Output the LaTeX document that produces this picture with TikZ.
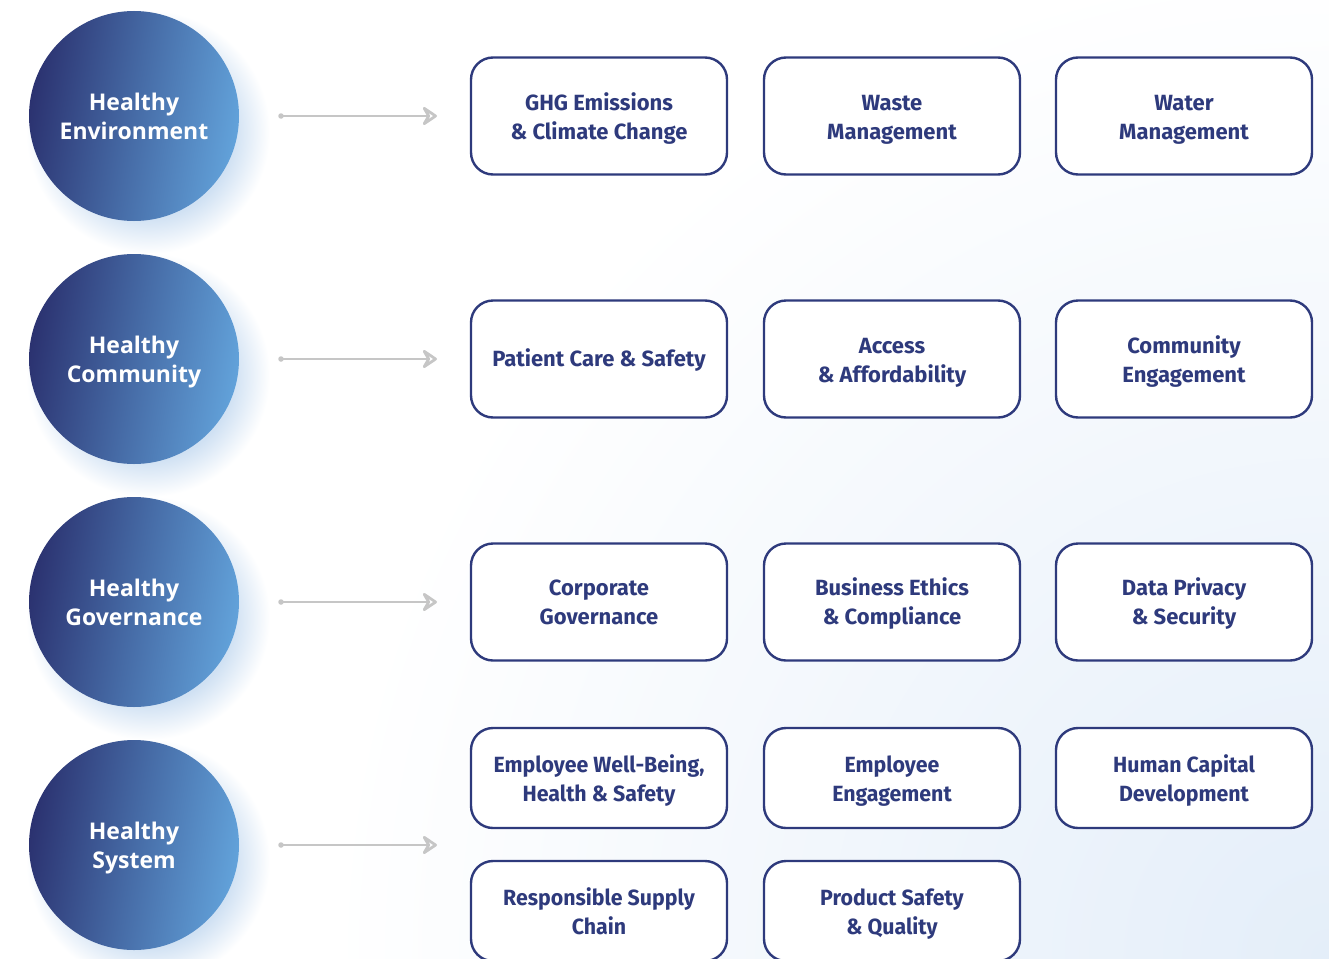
\documentclass[tikz,border=0pt]{standalone}
\usepackage{fontspec}
\setmainfont{Fira Sans}
\newfontfamily\circfont{Open Sans}
\usetikzlibrary{arrows.meta}
\definecolor{navy}{HTML}{2E3A7C}
\definecolor{ballA}{HTML}{2B3270}
\definecolor{ballB}{HTML}{466BA6}
\definecolor{ballC}{HTML}{62A2DA}
\definecolor{halo}{HTML}{D0E1F3}
\definecolor{bgblue}{HTML}{E4EEF9}
\definecolor{arrowgray}{HTML}{C6C6C6}
\pgfdeclareradialshading{haloshade}{\pgfpoint{0bp}{0bp}}{color(0bp)=(halo); color(17.5bp)=(halo); color(25bp)=(white); color(50bp)=(white)}
\tikzset{
  ball/.style={circle, minimum size=210pt, inner sep=0pt, left color=ballA, right color=ballC, middle color=ballB, shading angle=80},
  clab/.style={inner sep=0pt, anchor=base, text=white, font=\circfont\bfseries\fontsize{23}{29}\selectfont, align=center},
  topic/.style={draw=navy, line width=2.4pt, rounded corners=22pt, fill=white, minimum width=256pt, minimum height=117pt, inner sep=0pt},
  topicb/.style={topic, minimum height=100pt},
  tlab/.style={inner sep=0pt, anchor=base, text=navy, font=\bfseries\fontsize{22}{29}\selectfont, align=center},
  tlabn/.style={tlab, font=\addfontfeatures{FakeStretch=0.97}\bfseries\fontsize{22}{29}\selectfont},
  link/.style={draw=arrowgray, line width=1.6pt, -{Stealth[open, length=18pt, width=24pt, inset=7pt, line width=3.2pt 0, line join=round]}},
  dot/.style={circle, fill=arrowgray, inner sep=0pt, minimum size=5.5pt}
}
\begin{document}
\begin{tikzpicture}[x=1pt, y=-1pt]
\useasboundingbox (0,0) rectangle (1329,958);
\begin{scope}
\clip (0,0) rectangle (1329,958);
\fill[white] (0,0) rectangle (1329,958);
\path[inner color=bgblue, outer color=white] (1329,958) circle (1000);
% halos
\foreach \y in {116,359,602,845}{
  \path[shading=haloshade] (148,\y+16) circle (122);
}
\end{scope}
% circles
\node[ball] (c1) at (134,116) {};
\node[ball] (c2) at (134,359) {};
\node[ball] (c3) at (134,602) {};
\node[ball] (c4) at (134,845) {};
\node[clab] (l1) at ([yshift=-23pt]c1.center) {Healthy\\Environment};
\node[clab] (l2) at ([yshift=-23pt]c2.center) {Healthy\\Community};
\node[clab] (l3) at ([yshift=-23pt]c3.center) {Healthy\\Governance};
\node[clab] (l4) at ([yshift=-23pt]c4.center) {Healthy\\System};
% arrows
\foreach \i/\y in {1/116,2/359,3/602,4/845}{
  \node[dot] (s\i) at (281,\y) {};
  \coordinate (e\i) at (437,\y);
  \draw[link] (s\i.center) -- (e\i);
}
% boxes
\node[topic] (b11) at (599,116) {};
\node[topic] (b12) at (892,116) {};
\node[topic] (b13) at (1184,116) {};
\node[topic] (b21) at (599,359) {};
\node[topic] (b22) at (892,359) {};
\node[topic] (b23) at (1184,359) {};
\node[topic] (b31) at (599,602) {};
\node[topic] (b32) at (892,602) {};
\node[topic] (b33) at (1184,602) {};
\node[topicb] (b41) at (599,778) {};
\node[topicb] (b42) at (892,778) {};
\node[topicb] (b43) at (1184,778) {};
\node[topicb] (b51) at (599,911) {};
\node[topicb] (b52) at (892,911) {};
% labels
\node[tlab] (t11) at ([yshift=-23pt]b11.center) {GHG Emissions\\\& Climate Change};
\node[tlab] (t12) at ([yshift=-23pt]b12.center) {Waste\\Management};
\node[tlab] (t13) at ([yshift=-23pt]b13.center) {Water\\Management};
\node[tlab] (t21) at ([yshift=-7.5pt]b21.center) {Patient Care \& Safety};
\node[tlab] (t22) at ([yshift=-23pt]b22.center) {Access\\\& Affordability};
\node[tlab] (t23) at ([yshift=-23pt]b23.center) {Community\\Engagement};
\node[tlab] (t31) at ([yshift=-22.5pt]b31.center) {Corporate\\Governance};
\node[tlab] (t32) at ([yshift=-22.5pt]b32.center) {Business Ethics\\\& Compliance};
\node[tlab] (t33) at ([yshift=-22.5pt]b33.center) {Data Privacy\\\& Security};
\node[tlabn] (t41) at ([yshift=-23pt]b41.center) {Employee Well-Being,\\Health \& Safety};
\node[tlabn] (t42) at ([yshift=-23pt]b42.center) {Employee\\Engagement};
\node[tlabn] (t43) at ([yshift=-23pt]b43.center) {Human Capital\\Development};
\node[tlabn] (t51) at ([yshift=-23pt]b51.center) {Responsible Supply\\Chain};
\node[tlabn] (t52) at ([yshift=-23pt]b52.center) {Product Safety\\\& Quality};
\end{tikzpicture}
\end{document}
